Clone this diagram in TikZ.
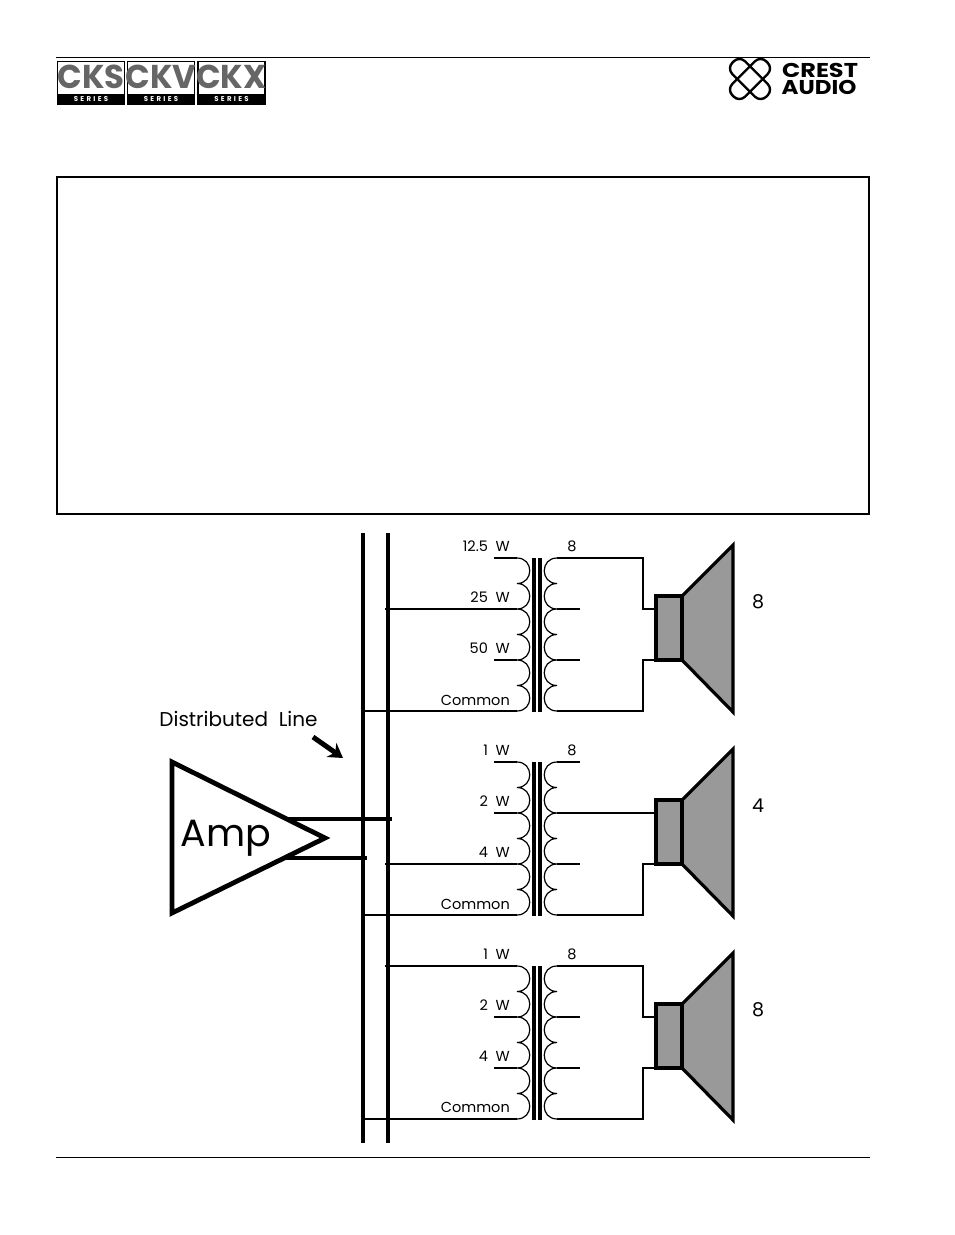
\documentclass[tikz,border=0pt]{standalone}
\usepackage{fontspec}
\setmainfont{Poppins}
\usetikzlibrary{arrows.meta}

\begin{document}
\begin{tikzpicture}[x=1pt,y=-1pt,
		wire/.style={line width=1.3pt},
		bus/.style={line width=4.8pt},
		amp line/.style={line width=4.8pt},
		horn/.style={draw,line width=3.2pt,fill=black!40,line join=miter},
		coil/.style={line width=1.2pt},
		core/.style={line width=3.7pt},
		rule/.style={line width=1pt},
		tap/.style={font=\fontsize{14.5}{16}\selectfont,anchor=east,inner sep=0pt},
		ohm/.style={font=\fontsize{19}{20}\selectfont,inner sep=0pt},
		logobox/.style={draw,line width=1.2pt,minimum width=67pt,minimum height=43pt,inner sep=0pt},
		logotext/.style={font=\fontsize{33}{34}\selectfont\bfseries,text=black!60,inner sep=0pt},
		stripe/.style={fill=black,text=white,minimum width=68pt,minimum height=11pt,inner sep=0pt,font=\fontsize{7}{8}\selectfont\bfseries},
		pics/xfmr/.style={code={
			% six humps each side, taps on every second one
			\draw[coil] (517,0) \foreach \h in {0,25.5,...,127.5}{
				.. controls (534,\h) and (534,\h+25.5) .. (517,\h+25.5)};
			\draw[coil] (557,0) \foreach \h in {0,25.5,...,127.5}{
				.. controls (540,\h) and (540,\h+25.5) .. (557,\h+25.5)};
			\draw[core] (534,0) -- (534,154);
			\draw[core] (540,0) -- (540,154);
			\coordinate (-p0) at (517,0);
			\coordinate (-p1) at (517,51);
			\coordinate (-p2) at (517,102);
			\coordinate (-p3) at (517,153);
			\coordinate (-s0) at (557,0);
			\coordinate (-s1) at (557,51);
			\coordinate (-s2) at (557,102);
			\coordinate (-s3) at (557,153);
			\coordinate (-q0) at (494,0);
			\coordinate (-q1) at (494,51);
			\coordinate (-q2) at (494,102);
			\coordinate (-r0) at (580,0);
			\coordinate (-r1) at (580,51);
			\coordinate (-r2) at (580,102);
			\coordinate (-b0) at (643,0);
			\coordinate (-b1) at (643,51);
			\coordinate (-b2) at (643,102);
			\coordinate (-b3) at (643,153);
			\coordinate (-c1) at (655,51);
			\coordinate (-c2) at (655,102);
			% speaker
			\draw[horn] (682,38) -- (733,-13) -- (733,154) -- (682,102) -- cycle;
			\draw[horn] (656,38) rectangle (682,102);
		}}]
	\useasboundingbox (0,0) rectangle (954,1235);

	% header and footer
	\coordinate (ht1) at (56,57);
	\coordinate (ht2) at (870,57);
	\coordinate (ft1) at (56,1157);
	\coordinate (ft2) at (870,1157);
	\draw[rule] (ht1) -- (ht2);
	\draw[rule] (ft1) -- (ft2);

	% series logos
	\node[logobox] (cks) at (91,83) {};
	\node[logobox] (ckv) at (161,83) {};
	\node[logobox] (ckx) at (231.5,83) {};
	\node[logotext] (cks t) at (91,77) {\scalebox{.98}[1]{CKS}};
	\node[logotext] (ckv t) at (161,77) {\scalebox{.98}[1]{CKV}};
	\node[logotext] (ckx t) at (231.5,77) {\scalebox{.98}[1]{CKX}};
	\node[stripe] (cks s) at (91,99) {S\,\,E\,\,R\,\,I\,\,E\,\,S};
	\node[stripe] (ckv s) at (161,99) {S\,\,E\,\,R\,\,I\,\,E\,\,S};
	\node[stripe] (ckx s) at (231.5,99) {S\,\,E\,\,R\,\,I\,\,E\,\,S};

	% crest logo
	\draw[line width=2.4pt,rounded corners=8pt,rotate around={45:(750,79)}] (726,70) rectangle (774,88);
	\draw[line width=2.4pt,rounded corners=8pt,rotate around={-45:(750,79)}] (726,70) rectangle (774,88);
	\node[inner sep=0pt,font=\fontsize{20}{20}\selectfont\bfseries] (crest) at (820,70) {\scalebox{1.2}[1]{CREST}};
	\node[inner sep=0pt,font=\fontsize{20}{20}\selectfont\bfseries] (audio) at (819,87) {\scalebox{1.15}[1]{AUDIO}};

	% empty frame
	\node[draw,line width=2.6pt,minimum width=812pt,minimum height=337pt,inner sep=0pt] (frame) at (463,345.5) {};

	% buses
	\coordinate (b1t) at (363,533);
	\coordinate (b1b) at (363,1143);
	\coordinate (b2t) at (388,533);
	\coordinate (b2b) at (388,1143);
	\draw[bus] (b1t) -- (b1b);
	\draw[bus] (b2t) -- (b2b);

	% transformers
	\pic (t1) at (0,558) {xfmr};
	\pic (t2) at (0,762) {xfmr};
	\pic (t3) at (0,966) {xfmr};

	% first branch
	\coordinate (a1) at (385,609);
	\coordinate (a2) at (361,711);
	\draw[wire] (t1-q0) -- (t1-p0);
	\draw[wire] (a1) -- (t1-p1);
	\draw[wire] (t1-q2) -- (t1-p2);
	\draw[wire] (a2) -- (t1-p3);
	\draw[wire] (t1-s0) -- (t1-b0) -- (t1-b1) -- (t1-c1);
	\draw[wire] (t1-s1) -- (t1-r1);
	\draw[wire] (t1-s2) -- (t1-r2);
	\draw[wire] (t1-s3) -- (t1-b3) -- (t1-b2) -- (t1-c2);

	% second branch
	\coordinate (a3) at (385,864);
	\coordinate (a4) at (361,915);
	\draw[wire] (t2-q0) -- (t2-p0);
	\draw[wire] (t2-q1) -- (t2-p1);
	\draw[wire] (a3) -- (t2-p2);
	\draw[wire] (a4) -- (t2-p3);
	\draw[wire] (t2-s0) -- (t2-r0);
	\draw[wire] (t2-s1) -- (t2-c1);
	\draw[wire] (t2-s2) -- (t2-r2);
	\draw[wire] (t2-s3) -- (t2-b3) -- (t2-b2) -- (t2-c2);

	% third branch
	\coordinate (a5) at (385,966);
	\coordinate (a6) at (361,1119);
	\draw[wire] (a5) -- (t3-p0);
	\draw[wire] (t3-q1) -- (t3-p1);
	\draw[wire] (t3-q2) -- (t3-p2);
	\draw[wire] (a6) -- (t3-p3);
	\draw[wire] (t3-s0) -- (t3-b0) -- (t3-b1) -- (t3-c1);
	\draw[wire] (t3-s1) -- (t3-r1);
	\draw[wire] (t3-s2) -- (t3-r2);
	\draw[wire] (t3-s3) -- (t3-b3) -- (t3-b2) -- (t3-c2);

	% labels
	\node[tap] (l11) at (510,546) {12.5\ \ W};
	\node[tap] (l12) at (510,597) {25\ \ W};
	\node[tap] (l13) at (510,648) {50\ \ W};
	\node[tap] (l14) at (510,700) {Common};
	\node[tap] (l21) at (510,750) {1\ \ W};
	\node[tap] (l22) at (510,801) {2\ \ W};
	\node[tap] (l23) at (510,852) {4\ \ W};
	\node[tap] (l24) at (510,904) {Common};
	\node[tap] (l31) at (510,954) {1\ \ W};
	\node[tap] (l32) at (510,1005) {2\ \ W};
	\node[tap] (l33) at (510,1056) {4\ \ W};
	\node[tap] (l34) at (510,1107) {Common};
	\node[tap,anchor=center] (s1) at (572,546) {8};
	\node[tap,anchor=center] (s2) at (572,750) {8};
	\node[tap,anchor=center] (s3) at (572,954) {8};
	\node[ohm] (o1) at (758,602) {8};
	\node[ohm] (o2) at (758,806) {4};
	\node[ohm] (o3) at (758,1010) {8};

	% amp
	\node[inner sep=0pt,font=\fontsize{38}{40}\selectfont] (amp) at (226,838) {Amp};
	\coordinate (v1) at (172,762);
	\coordinate (v2) at (325,838);
	\coordinate (v3) at (172,913);
	\draw[amp line,line join=miter] (v1) -- (v2) -- (v3) -- cycle;
	\coordinate (o1a) at (288,819);
	\coordinate (o1b) at (392,819);
	\coordinate (o2a) at (286,858);
	\coordinate (o2b) at (367,858);
	\draw[amp line] (o1a) -- (o1b);
	\draw[amp line] (o2a) -- (o2b);

	% distributed line
	\node[inner sep=0pt,font=\fontsize{20}{22}\selectfont] (dist) at (238.5,719) {Distributed\ \ Line};
	\coordinate (d1) at (313,737);
	\coordinate (d2) at (343,758);
	\draw[line width=5pt,-{Stealth[length=14pt,width=17pt]}] (d1) -- (d2);
\end{tikzpicture}
\end{document}
